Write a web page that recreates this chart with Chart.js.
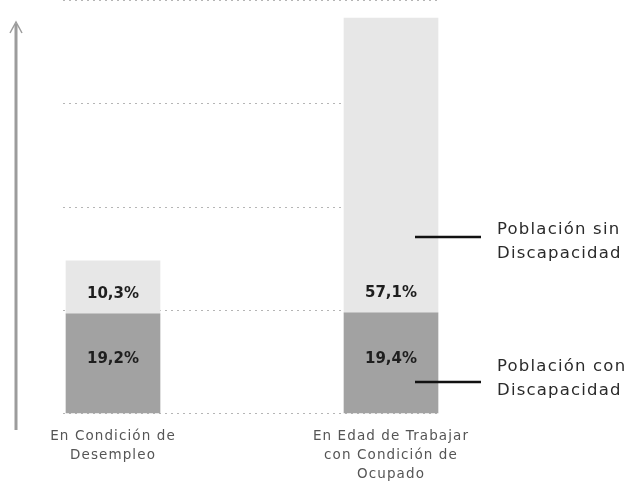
<!DOCTYPE html>
<html lang="es">
<head>
<meta charset="utf-8">
<title>Población con y sin discapacidad</title>
<script src="https://cdn.jsdelivr.net/npm/chart.js@4.4.1/dist/chart.umd.min.js"></script>
<style>
    html, body { margin: 0; padding: 0; background: #fff; }
    .chart-container { position: relative; width: 637px; height: 491px; }
</style>
</head>
<body>
<div class="chart-container"><canvas id="grafico"></canvas></div>
<script>
// Datos
const categorias = [
    ['En Condición de', 'Desempleo'],
    ['En Edad de Trabajar', 'con Condición de', 'Ocupado']
];
const conDiscapacidad = [19.2, 19.4];
const sinDiscapacidad = [10.3, 57.1];
const ticksEje = [0, 20, 40, 60, 80];
const nombreCon = ['Población con', 'Discapacidad'];
const nombreSin = ['Población sin', 'Discapacidad'];

const COLOR_OSCURO = '#a2a2a2';
const COLOR_CLARO = '#e7e7e7';
const FUENTE = '"DejaVu Sans", sans-serif';

function formatoPorcentaje(valor) {
    return valor.toFixed(1).replace('.', ',') + '%';
}

// La tipografía original es ancha: se abre el espaciado del texto del eje
const espaciadoPlugin = {
    id: 'espaciado',
    beforeLayout(chart) { chart.ctx.letterSpacing = '1.1px'; },
    beforeDraw(chart) { chart.ctx.letterSpacing = '1.1px'; }
};

// Líneas punteadas de referencia y eje vertical con flecha
const fondoPlugin = {
    id: 'fondo',
    beforeDatasetsDraw(chart) {
        const ctx = chart.ctx;
        const y = chart.scales.y;
        const barras = chart.getDatasetMeta(0).data;
        const izq = barras[0].x - barras[0].width / 2 - 3;
        const der = barras[1].x + barras[1].width / 2;

        ctx.save();
        ctx.strokeStyle = '#b5b5b5';
        ctx.lineWidth = 1;
        ctx.setLineDash([2, 4]);
        ticksEje.forEach(valor => {
            const py = Math.round(y.getPixelForValue(valor)) + 0.5;
            ctx.beginPath();
            ctx.moveTo(izq, py);
            ctx.lineTo(der, py);
            ctx.stroke();
        });
        ctx.setLineDash([]);

        // eje con flecha
        const ex = 16;
        const abajo = y.getPixelForValue(0) + 17;
        const arriba = 22;
        ctx.strokeStyle = '#9c9c9c';
        ctx.lineWidth = 3;
        ctx.beginPath();
        ctx.moveTo(ex, abajo);
        ctx.lineTo(ex, arriba + 2);
        ctx.stroke();
        ctx.lineWidth = 1.5;
        ctx.beginPath();
        ctx.moveTo(ex - 6, arriba + 11);
        ctx.lineTo(ex, arriba);
        ctx.lineTo(ex + 6, arriba + 11);
        ctx.stroke();
        ctx.restore();
    }
};

// Etiquetas de porcentaje dentro de las barras
const etiquetasPlugin = {
    id: 'etiquetas',
    afterDatasetsDraw(chart) {
        const ctx = chart.ctx;
        ctx.save();
        ctx.letterSpacing = '0px';
        ctx.fillStyle = '#1e1e1e';
        ctx.font = 'bold 15px ' + FUENTE;
        ctx.textAlign = 'center';
        ctx.textBaseline = 'middle';
        chart.data.datasets.forEach((ds, i) => {
            chart.getDatasetMeta(i).data.forEach((barra, j) => {
                const p = barra.getProps(['x', 'y', 'base'], true);
                const py = i === 0 ? (p.y + p.base) / 2 - 4 : p.base - 20;
                ctx.fillText(formatoPorcentaje(ds.data[j]), p.x, py);
            });
        });
        ctx.restore();
    }
};

// Leyenda con líneas que apuntan a la segunda barra
const leyendaPlugin = {
    id: 'leyenda',
    afterDraw(chart) {
        const ctx = chart.ctx;
        const barra = chart.getDatasetMeta(0).data[1];
        const x0 = barra.x + 24;
        const x1 = barra.x + 90;
        const entradas = [
            { texto: nombreSin, linea: 237, lineas: [230, 254] },
            { texto: nombreCon, linea: 382, lineas: [367, 391] }
        ];
        ctx.save();
        ctx.strokeStyle = '#111';
        ctx.lineWidth = 2.5;
        ctx.fillStyle = '#2a2a2a';
        ctx.font = '16.5px ' + FUENTE;
        ctx.letterSpacing = '1.2px';
        ctx.textAlign = 'left';
        ctx.textBaseline = 'middle';
        entradas.forEach(e => {
            ctx.beginPath();
            ctx.moveTo(x0, e.linea);
            ctx.lineTo(x1, e.linea);
            ctx.stroke();
            e.texto.forEach((t, k) => ctx.fillText(t, 497, e.lineas[k]));
        });
        ctx.restore();
    }
};

const ctx = document.getElementById('grafico').getContext('2d');
new Chart(ctx, {
    type: 'bar',
    data: {
        labels: categorias,
        datasets: [
            {
                label: nombreCon.join(' '),
                data: conDiscapacidad,
                backgroundColor: COLOR_OSCURO,
                barThickness: 94,
                clip: false
            },
            {
                label: nombreSin.join(' '),
                data: sinDiscapacidad,
                backgroundColor: COLOR_CLARO,
                barThickness: 94,
                clip: false
            }
        ]
    },
    options: {
        responsive: true,
        maintainAspectRatio: false,
        animation: false,
        layout: { padding: { left: 113, right: 246, top: 0, bottom: 0 } },
        plugins: {
            legend: { display: false },
            tooltip: { enabled: false }
        },
        scales: {
            x: {
                stacked: true,
                offset: false,
                grid: { display: false, drawTicks: false },
                border: { display: false },
                afterFit(scale) { scale.height = 78; },
                ticks: {
                    padding: 14,
                    color: '#555',
                    font: { family: FUENTE, size: 13.5, lineHeight: 1.4 }
                }
            },
            y: {
                stacked: true,
                display: false,
                min: 0,
                max: 80,
                ticks: { stepSize: 20 }
            }
        }
    },
    plugins: [espaciadoPlugin, fondoPlugin, etiquetasPlugin, leyendaPlugin]
});
</script>
</body>
</html>
